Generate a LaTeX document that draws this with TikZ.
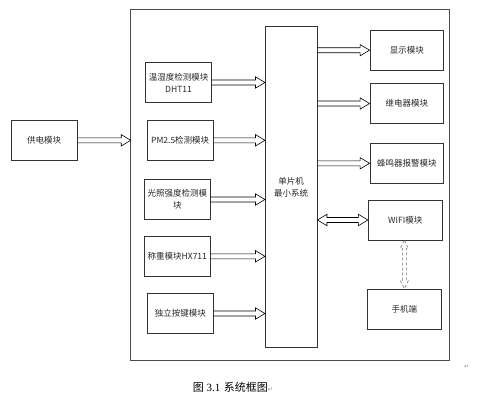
\documentclass[tikz,border=0pt]{standalone}
\usepackage{fontspec}
\newfontfamily\cjk{Noto Sans CJK SC}
\newfontfamily\dejavu{DejaVu Sans}
\setmainfont{Liberation Serif}
\usetikzlibrary{calc}
\tikzset{
  box/.style={draw=black!80, line width=0.8pt, inner sep=0pt, align=center,
    font=\cjk\fontsize{8.5}{12}\selectfont, text=black!85},
  arr/.style={draw=black, line width=0.6pt, line join=miter},
  darr/.style={draw=black!55, line width=0.6pt, dash pattern=on 3pt off 2pt},
  fmtmark/.style={text=black!45, font=\dejavu\fontsize{6}{6}\selectfont, inner sep=0pt}
}
\newcommand\harr[2]{\draw[arr] let \p1=(#1), \p2=(#2) in
  (\x1,\y1+2.5pt) -- (\x2-9.5pt,\y1+2.5pt) -- (\x2-9.5pt,\y1+5.7pt) -- (\x2,\y1)
  -- (\x2-9.5pt,\y1-5.7pt) -- (\x2-9.5pt,\y1-2.5pt) -- (\x1,\y1-2.5pt);}
\newcommand\hdarr[2]{\draw[arr] let \p1=(#1), \p2=(#2) in
  (\x1,\y1) -- (\x1+9.5pt,\y1+5.7pt) -- (\x1+9.5pt,\y1+2.5pt) -- (\x2-9.5pt,\y1+2.5pt)
  -- (\x2-9.5pt,\y1+5.7pt) -- (\x2,\y1) -- (\x2-9.5pt,\y1-5.7pt) -- (\x2-9.5pt,\y1-2.5pt)
  -- (\x1+9.5pt,\y1-2.5pt) -- (\x1+9.5pt,\y1-5.7pt) -- cycle;}
\newcommand\vdarr[2]{\draw[darr] let \p1=(#1), \p2=(#2) in
  (\x1,\y1) -- (\x1+4pt,\y1-8pt) -- (\x1+2pt,\y1-8pt) -- (\x1+2pt,\y2+8pt)
  -- (\x1+4pt,\y2+8pt) -- (\x1,\y2) -- (\x1-4pt,\y2+8pt) -- (\x1-2pt,\y2+8pt)
  -- (\x1-2pt,\y1-8pt) -- (\x1-4pt,\y1-8pt) -- cycle;}
\begin{document}
\begin{tikzpicture}[x=1pt,y=-1pt]
\useasboundingbox (0,0) rectangle (482,408);
% outer frame
\draw[black!70, line width=1pt] (130.7,9.3) rectangle (449.3,360);
% nodes
\node[box, minimum width=65.7pt, minimum height=40pt] (pwr) at (44.2,140.3) {供电模块};
\node[box, minimum width=51.7pt, minimum height=320.3pt] (mcu) at (291.2,186.8) {单片机\\最小系统};
\node[box, minimum width=65.6pt, minimum height=40.4pt] (b1) at (178.5,82.5) {温湿度检测模块\\DHT11};
\node[box, minimum width=65.7pt, minimum height=40pt] (b2) at (180.2,140.3) {PM2.5检测模块};
\node[box, minimum width=66pt, minimum height=39.6pt] (b3) at (177.3,199.5) {光照强度检测模\\块};
\node[box, minimum width=66pt, minimum height=40pt] (b4) at (177.3,256.3) {称重模块HX711};
\node[box, minimum width=66pt, minimum height=39.6pt] (b5) at (180.3,313.5) {独立按键模块};
\node[box, minimum width=73.7pt, minimum height=40.3pt] (r1) at (406.8,50.2) {显示模块};
\node[box, minimum width=73.7pt, minimum height=40.4pt] (r2) at (406.8,103.5) {继电器模块};
\node[box, minimum width=73.7pt, minimum height=40pt] (r3) at (406.8,163.3) {蜂鸣器报警模块};
\node[box, minimum width=74pt, minimum height=40pt] (r4) at (405.3,220) {WIFI模块};
\node[box, minimum width=74pt, minimum height=40pt] (r5) at (404.3,309) {手机端};
\coordinate (frameW) at (130.7,140.3);
% arrows
\harr{pwr.east}{frameW}
\harr{b1.east}{b1.east -| mcu.west}
\harr{b2.east}{b2.east -| mcu.west}
\harr{b3.east}{b3.east -| mcu.west}
\harr{b4.east}{b4.east -| mcu.west}
\harr{b5.east}{b5.east -| mcu.west}
\harr{mcu.east |- r1.west}{r1.west}
\harr{mcu.east |- r2.west}{r2.west}
\harr{mcu.east |- r3.west}{r3.west}
\hdarr{mcu.east |- r4.west}{r4.west}
\vdarr{r4.south -| r5.north}{r5.north}
% caption
\node[anchor=west, inner sep=0pt] (cap) at (192.7,387.7)
  {\fontsize{11}{12}\selectfont{\cjk 图} 3.1\hspace{1pt}{\color{black!45}\dejavu\fontsize{5}{5}\selectfont\raisebox{1.5pt}{·}}\hspace{1pt}{\cjk 系统框图}{\color{black!45}\dejavu\fontsize{6}{6}\selectfont ↵}};
\node[fmtmark] (pm) at (466.7,366.7) {↵};
\end{tikzpicture}
\end{document}
